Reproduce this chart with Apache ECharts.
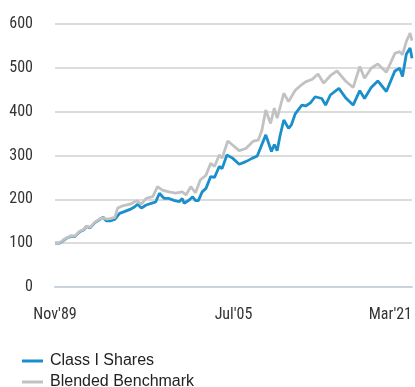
<!DOCTYPE html>
<html>
<head>
<meta charset="utf-8">
<script src="https://cdn.jsdelivr.net/npm/echarts@6/dist/echarts.min.js"></script>
<style>
  html, body { margin: 0; padding: 0; background: #fff; }
  #chart { width: 415px; height: 387px; }
</style>
</head>
<body>
<div id="chart"></div>
<script>
// Growth of 100 invested, Nov 1989 – Mar 2021.
// Positions along the time axis are months elapsed since Nov 1989.
const xTickLabels = ["Nov'89", "Jul'05", "Mar'21"];
const yTicks = [0, 100, 200, 300, 400, 500, 600];

const classMonths = [0, 5, 12, 17, 21, 26, 30, 33, 37, 42, 47, 51, 54, 58, 63, 68, 73, 79, 84, 87, 91, 96, 103, 106, 110, 115, 120, 126, 131, 134, 136, 141, 145, 148, 151, 155, 159, 164, 168, 173, 176, 181, 187, 194, 201, 208, 213, 222, 225, 228, 231, 234, 237, 241, 246, 249, 253, 260, 264, 269, 274, 281, 285, 290, 299, 306, 314, 321, 326, 333, 340, 349, 358, 363, 366, 370, 374, 376];
const classValues = [100, 100, 111, 116, 115, 126, 130, 138, 135, 147, 154, 159, 151, 151, 154, 168, 172, 177, 183, 189, 180, 187, 192, 194, 214, 202, 202, 197, 195, 202, 191, 198, 206, 197, 197, 217, 225, 252, 250, 275, 270, 301, 294, 280, 286, 294, 299, 347, 328, 309, 325, 311, 345, 381, 362, 370, 395, 415, 413, 420, 434, 430, 415, 438, 453, 432, 415, 448, 430, 455, 470, 446, 493, 499, 480, 531, 545, 522];

const benchMonths = [0, 5, 12, 17, 21, 26, 30, 33, 37, 42, 47, 51, 54, 58, 63, 66, 71, 79, 86, 91, 96, 103, 108, 113, 120, 127, 134, 138, 143, 148, 153, 159, 164, 168, 173, 176, 182, 187, 194, 201, 209, 214, 218, 222, 227, 231, 234, 241, 246, 253, 260, 264, 271, 277, 283, 290, 297, 306, 314, 321, 326, 333, 340, 349, 358, 363, 366, 370, 374, 376];
const benchValues = [100, 101, 112, 117, 116, 127, 131, 139, 136, 148, 155, 158, 155, 156, 159, 180, 185, 189, 197, 189, 202, 206, 229, 221, 217, 214, 217, 210, 229, 215, 244, 255, 282, 275, 301, 294, 333, 324, 311, 316, 333, 335, 358, 404, 373, 408, 385, 442, 423, 449, 462, 468, 474, 486, 465, 482, 493, 470, 455, 503, 476, 499, 509, 490, 533, 537, 530, 560, 579, 562];

const seriesNames = ['Class I Shares', 'Blended Benchmark'];
const seriesColors = ['#1a8fcc', '#c2c2c2'];

const pair = (xs, ys) => xs.map((x, i) => [x, ys[i]]);

// Prefer a narrow face for the axis numbers when one is installed.
function pickFont(candidates, fallback) {
  const ctx = document.createElement('canvas').getContext('2d');
  const probe = "Nov'89 Mar'21 600";
  ctx.font = '40px monospace';
  const base = ctx.measureText(probe).width;
  for (const f of candidates) {
    ctx.font = `40px '${f}', monospace`;
    if (Math.abs(ctx.measureText(probe).width - base) > 0.5) return `'${f}', ${fallback}`;
  }
  return fallback;
}
const axisFont = pickFont(['Liberation Sans Narrow', 'Roboto Condensed', 'DejaVu Sans Condensed'], "'Liberation Sans', sans-serif");
const axisColor = '#333';
const axisSize = 16;

const legendBase = {
  orient: 'vertical',
  left: 22,
  padding: 0,
  icon: 'rect',
  itemWidth: 21,
  itemHeight: 3,
  textStyle: { fontFamily: "'Liberation Sans', Arial, sans-serif", fontSize: 16, color: '#222', padding: [0, 0, 0, 2] }
};

const chart = echarts.init(document.getElementById('chart'), null, { renderer: 'canvas' });
chart.setOption({
  animation: false,
  grid: { left: 55, right: 1, top: 24, bottom: 100, containLabel: false },
  xAxis: {
    type: 'value',
    min: 0,
    max: 376,
    interval: 188,
    axisLine: { show: true, lineStyle: { color: '#c9d4df', width: 2 } },
    axisTick: { show: false },
    splitLine: { show: false },
    axisLabel: {
      margin: 20,
      fontFamily: axisFont,
      fontSize: axisSize,
      color: axisColor,
      alignMaxLabel: 'right',
      formatter: v => xTickLabels[Math.round(v / 188)] || ''
    }
  },
  yAxis: {
    type: 'value',
    min: yTicks[0],
    max: yTicks[yTicks.length - 1],
    interval: 100,
    axisLine: { show: false },
    axisTick: { show: false },
    splitLine: { lineStyle: { color: '#dcdcdc', width: 2 } },
    axisLabel: {
      margin: 22,
      fontFamily: axisFont,
      fontSize: axisSize,
      color: axisColor
    }
  },
  legend: [
    Object.assign({}, legendBase, { top: 353, data: [seriesNames[0]] }),
    Object.assign({}, legendBase, { top: 374, data: [seriesNames[1]] })
  ],
  series: [
    {
      name: seriesNames[0],
      type: 'line',
      data: pair(classMonths, classValues),
      showSymbol: false,
      lineStyle: { color: seriesColors[0], width: 2.8 },
      itemStyle: { color: seriesColors[0] },
      z: 2
    },
    {
      name: seriesNames[1],
      type: 'line',
      data: pair(benchMonths, benchValues),
      showSymbol: false,
      lineStyle: { color: seriesColors[1], width: 2.8 },
      itemStyle: { color: seriesColors[1] },
      z: 3
    }
  ]
});
</script>
</body>
</html>
